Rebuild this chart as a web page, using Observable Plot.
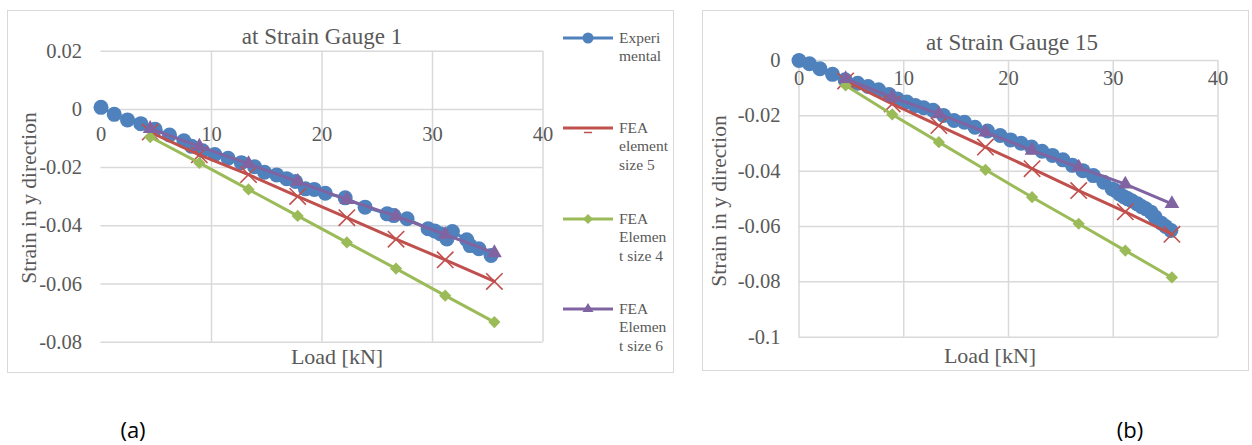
<!DOCTYPE html>
<html><head><meta charset="utf-8">
<script src="https://cdn.jsdelivr.net/npm/d3@7"></script>
<script src="https://cdn.jsdelivr.net/npm/@observablehq/plot@0.6"></script>
<style>
body{margin:0;background:#fff;width:1252px;height:445px;position:relative;overflow:hidden;font-family:"Liberation Serif","Times New Roman",serif;color:#595959}
.abs{position:absolute;white-space:nowrap;line-height:1}
.c{transform:translate(-50%,-50%)}
.rot{transform:translate(-50%,-50%) rotate(-90deg)}
.frame{position:absolute;border:1.5px solid #d9d9d9;box-sizing:border-box}
.plot{position:absolute;top:0}
.plot svg text{font-family:"Liberation Serif","Times New Roman",serif}
.leg{position:absolute;left:619px;font-family:"Liberation Serif","Times New Roman",serif;font-size:15.5px;line-height:18.3px;color:#595959;white-space:nowrap}
.legsw{position:absolute;left:560px}
.cap{position:absolute;font-family:"Open Sans","Noto Sans",sans-serif;font-size:22px;color:#000;transform:translate(-50%,-50%)}
</style></head>
<body>
<div class="frame" style="left:7px;top:10px;width:667px;height:363px"></div>
<div class="frame" style="left:702px;top:10px;width:547px;height:361px"></div>
<div id="left" class="plot" style="left:0px"></div>
<div id="right" class="plot" style="left:700px"></div>

<div class="abs c" style="left:322px;top:36px;font-size:23px">at Strain Gauge 1</div>
<div class="abs c" style="left:337px;top:357px;font-size:22px">Load [kN]</div>
<div class="abs rot" style="left:30px;top:198px;font-size:21.5px">Strain in y direction</div>

<div class="abs c" style="left:1012px;top:42px;font-size:23px">at Strain Gauge 15</div>
<div class="abs c" style="left:990px;top:356px;font-size:22px">Load [kN]</div>
<div class="abs rot" style="left:720px;top:201px;font-size:21.5px">Strain in y direction</div>

<div id="legend"></div>
<div class="cap" style="left:133px;top:429px">(a)</div>
<div class="cap" style="left:1130px;top:429px">(b)</div>

<script>
// ---- data ----
const feaLoad = [4.45, 8.9, 13.35, 17.8, 22.25, 26.7, 31.15, 35.6];

// Strain Gauge 1
const g1ExpLoad = [0, 1.2, 2.4, 3.6, 4.9, 6.2, 7.5, 8.2, 9.2, 10.3, 11.5, 12.7, 13.9, 14.8, 15.9, 16.8, 17.6, 18.5, 19.3, 20.3, 22.1, 23.9, 25.9, 26.5, 27.7, 29.6, 30.2, 30.7, 31.3, 31.8, 33.1, 33.4, 34.2, 35.3];
const g1ExpStrain = [0.0007, -0.0017, -0.0036, -0.0049, -0.0068, -0.0088, -0.0108, -0.0127, -0.0142, -0.0155, -0.0168, -0.0183, -0.0197, -0.0216, -0.0225, -0.0238, -0.0248, -0.0273, -0.0275, -0.0288, -0.0304, -0.0336, -0.0359, -0.0365, -0.0376, -0.041, -0.0418, -0.0427, -0.0445, -0.042, -0.0448, -0.0468, -0.0479, -0.0502];
const g1Size5 = [-0.0078, -0.0156, -0.0224, -0.0299, -0.0372, -0.0446, -0.0517, -0.0591];
const g1Size4 = [-0.0095, -0.0184, -0.0275, -0.0366, -0.0457, -0.0547, -0.064, -0.0731];
const g1Size6 = [-0.0066, -0.0127, -0.0187, -0.0248, -0.0310, -0.0367, -0.0430, -0.0493];

// Strain Gauge 15
const g15ExpLoad = [0, 1.0, 2.0, 3.2, 4.4, 5.6, 6.6, 7.6, 8.6, 9.4, 10.3, 11.1, 11.9, 12.8, 13.8, 14.8, 15.8, 16.8, 18.0, 19.2, 20.2, 21.2, 22.2, 23.2, 24.2, 25.2, 26.1, 27.1, 28.1, 29.1, 29.9, 30.2, 30.6, 31.0, 31.4, 31.8, 32.3, 32.7, 33.1, 33.6, 34.0, 34.6, 35.0, 35.5];
const g15ExpStrain = [0, -0.0012, -0.003, -0.005, -0.007, -0.0082, -0.0094, -0.0106, -0.0123, -0.0139, -0.015, -0.0163, -0.0171, -0.018, -0.0199, -0.0217, -0.0223, -0.0241, -0.0255, -0.0271, -0.0287, -0.0299, -0.0313, -0.0328, -0.0343, -0.0359, -0.0379, -0.0398, -0.0416, -0.044, -0.0464, -0.047, -0.0482, -0.0492, -0.05, -0.0508, -0.0518, -0.0528, -0.0536, -0.0548, -0.0566, -0.0588, -0.06, -0.0614];
const g15Size5 = [-0.0074, -0.0157, -0.0235, -0.0313, -0.0391, -0.047, -0.0547, -0.0628];
const g15Size4 = [-0.009, -0.0195, -0.0295, -0.0395, -0.0494, -0.059, -0.0687, -0.0784];
const g15Size6 = [-0.0066, -0.0133, -0.0193, -0.0259, -0.0325, -0.0386, -0.0447, -0.0518];

// ticks
const xTicks = [0, 10, 20, 30, 40];
const g1YTicks = [0.02, 0, -0.02, -0.04, -0.06, -0.08];
const g15YTicks = [0, -0.02, -0.04, -0.06, -0.08, -0.1];

const seriesNames = ["Experi\nmental", "FEA\nelement\nsize 5", "FEA\nElemen\nt size 4", "FEA\nElemen\nt size 6"];
const colors = ["#4F81BD", "#C0504D", "#9BBB59", "#8064A2"];

// ---- build ----
const zip = (xs, ys) => xs.map((x, i) => ({x, y: ys[i]}));
const fmt = d => d === 0 ? "0" : String(d);
const serif = "Liberation Serif, Times New Roman, serif";

function chart(o) {
  const exp = zip(o.expLoad, o.expStrain);
  const s5 = zip(feaLoad, o.s5), s4 = zip(feaLoad, o.s4), s6 = zip(feaLoad, o.s6);
  const grid = {stroke: "#d9d9d9", strokeWidth: 1.5, strokeOpacity: 1};
  return Plot.plot({
    width: o.width, height: 380,
    marginLeft: o.ml, marginRight: o.mr, marginTop: o.mt, marginBottom: o.mb,
    x: {domain: [0, 40], axis: null},
    y: {domain: o.ydomain, axis: null},
    style: {fontFamily: serif, fontSize: "20.5px", background: "transparent", overflow: "visible"},
    marks: [
      Plot.ruleY(o.yTicks, grid),
      Plot.ruleX(o.xGrid, grid),
      Plot.text(o.yTicks, {y: d => d, text: fmt, frameAnchor: "left", dx: o.ydx, textAnchor: "end", fill: "#595959", fontSize: 20.5, fontFamily: serif}),
      Plot.text(xTicks, {x: d => d, y: () => 0, dy: o.xdy, text: fmt, fill: "#595959", fontSize: 20.5, fontFamily: serif}),
      Plot.line(exp, {x: "x", y: "y", stroke: colors[0], strokeWidth: 3}),
      Plot.dot(exp, {x: "x", y: "y", r: 7.5, fill: colors[0]}),
      Plot.line(s5, {x: "x", y: "y", stroke: colors[1], strokeWidth: 3}),
      Plot.dot(s5, {x: "x", y: "y", symbol: "times", r: 7.5, stroke: colors[1], strokeWidth: 1.6}),
      Plot.line(s4, {x: "x", y: "y", stroke: colors[2], strokeWidth: 3}),
      Plot.dot(s4, {x: "x", y: "y", symbol: "diamond2", r: 5.5, fill: colors[2], stroke: null}),
      Plot.line(s6, {x: "x", y: "y", stroke: colors[3], strokeWidth: 3}),
      Plot.dot(s6, {x: "x", y: "y", symbol: "triangle", r: 5.5, fill: colors[3]})
    ]
  });
}

document.getElementById("left").append(chart({
  width: 560, ml: 100.5, mr: 17.5, mt: 50.7, mb: 38.3,
  ydomain: [-0.08, 0.02], yTicks: g1YTicks, xGrid: [10, 20, 30, 40],
  ydx: -19, xdy: 25,
  expLoad: g1ExpLoad, expStrain: g1ExpStrain, s5: g1Size5, s4: g1Size4, s6: g1Size6
}));
document.getElementById("right").append(chart({
  width: 552, ml: 98.5, mr: 34.5, mt: 60, mb: 43.3,
  ydomain: [-0.1, 0], yTicks: g15YTicks, xGrid: [0, 10, 20, 30, 40],
  ydx: -18.5, xdy: 18,
  expLoad: g15ExpLoad, expStrain: g15ExpStrain, s5: g15Size5, s4: g15Size4, s6: g15Size6
}));

// legend
const legendY = [38, 128, 219, 309];
const leg = document.getElementById("legend");
const markerSvg = [
  c => `<circle cx="28" cy="8" r="5.5" fill="${c}"/>`,
  c => `<line x1="24" x2="32" y1="12.5" y2="12.5" stroke="${c}" stroke-width="1.5"/>`,
  c => `<path d="M28 3 L33 8 L28 13 L23 8 Z" fill="${c}"/>`,
  c => `<path d="M28 2 L33.5 11 L22.5 11 Z" fill="${c}"/>`
];
seriesNames.forEach((name, i) => {
  const sw = document.createElement("div");
  sw.className = "legsw";
  sw.style.top = (legendY[i] - 8) + "px";
  sw.innerHTML = `<svg width="58" height="16"><line x1="3" x2="53" y1="8" y2="8" stroke="${colors[i]}" stroke-width="3"/>${markerSvg[i](colors[i])}</svg>`;
  leg.append(sw);
  const t = document.createElement("div");
  t.className = "leg";
  t.style.top = (legendY[i] - 9) + "px";
  t.innerHTML = name.split("\n").join("<br>");
  leg.append(t);
});
</script>
</body></html>
